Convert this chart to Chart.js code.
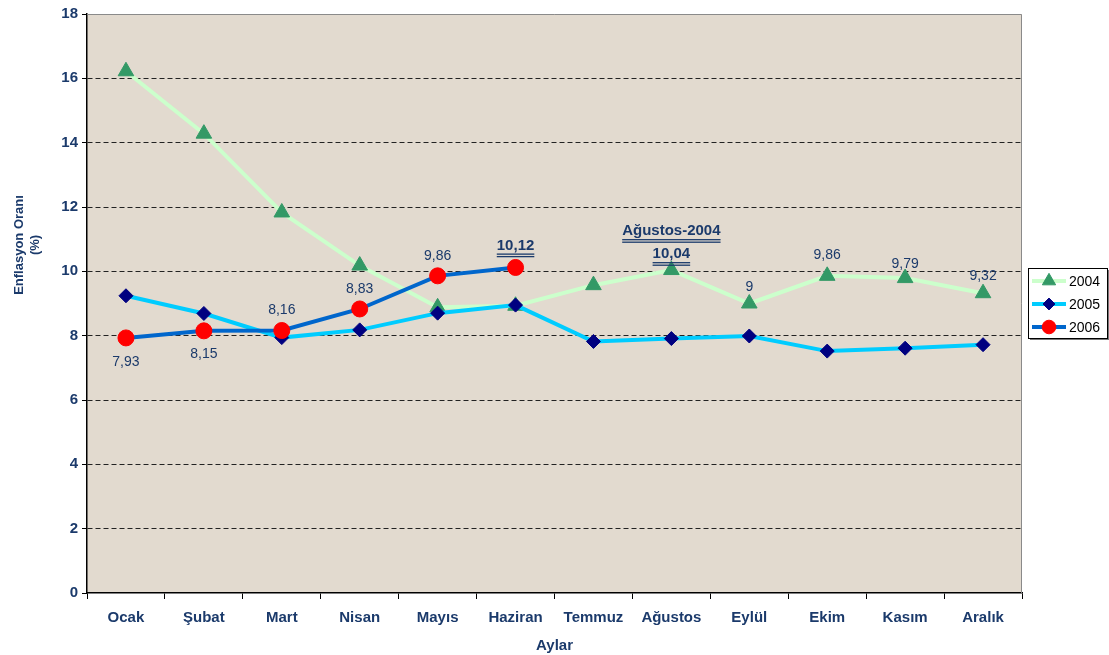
<!DOCTYPE html>
<html><head><meta charset="utf-8">
<script src="https://cdn.jsdelivr.net/npm/chart.js@4.4.0/dist/chart.umd.min.js"></script>
<style>html,body{margin:0;padding:0;background:#fff}#wrap{width:1109px;height:655px}</style>
</head><body>
<div id="wrap"><canvas id="c" width="1109" height="655"></canvas></div>
<script>
// ---------- Data
const months = ['Ocak','Şubat','Mart','Nisan','Mayıs','Haziran','Temmuz','Ağustos','Eylül','Ekim','Kasım','Aralık'];
const infl2004 = [16.22,14.28,11.83,10.18,8.88,8.93,9.57,10.04,9.00,9.86,9.79,9.32];
const infl2005 = [9.24,8.69,7.94,8.18,8.70,8.95,7.82,7.91,7.99,7.52,7.61,7.72];
const infl2006 = [7.93,8.15,8.16,8.83,9.86,10.12];
const labels2004 = [null,null,null,null,null,null,null,'10,04','9','9,86','9,79','9,32'];
const labels2006 = ['7,93','8,15','8,16','8,83','9,86','10,12'];
const yMin = 0, yMax = 18, yStep = 2;

const navy = '#1B3A6B';
const font = '"Liberation Sans", Arial, sans-serif';

// ---------- Helpers / plugins
function underline2(ctx, x, y, w){
  ctx.fillRect(x - w/2, y + 2, w, 1.3);
  ctx.fillRect(x - w/2, y + 4.5, w, 1.3);
}

const bgPlugin = {
  id:'bg',
  beforeDraw(chart){
    const {ctx, chartArea:a} = chart;
    ctx.save();
    ctx.fillStyle = '#E2DACF';
    ctx.fillRect(a.left, a.top, a.right - a.left, a.bottom - a.top);
    ctx.restore();
  },
  afterDraw(chart){
    const {ctx, chartArea:a} = chart;
    ctx.save();
    ctx.strokeStyle = '#8a8a8a'; ctx.lineWidth = 1;
    ctx.beginPath();
    ctx.moveTo(a.left, a.top + 0.5); ctx.lineTo(a.right - 0.5, a.top + 0.5); ctx.lineTo(a.right - 0.5, a.bottom);
    ctx.stroke();
    // y axis title (two lines, rotated)
    ctx.fillStyle = navy; ctx.font = 'bold 13px ' + font;
    ctx.textAlign = 'center'; ctx.textBaseline = 'middle';
    ctx.translate(0, 245); ctx.rotate(-Math.PI/2);
    ctx.fillText('Enflasyon Oranı', 0, 19);
    ctx.fillText('(%)', 0, 35);
    ctx.restore();
  }
};

// value labels (offset = distance of label centre from the point)
const labelCfg = [
  { ds:'2006', texts:labels2006, offsets:[24,23,-20,-20,-20,-22], bold:[5] },
  { ds:'2004', texts:labels2004, offsets:[0,0,0,0,0,0,0,-16,-16,-21,-14,-17], bold:[7] }
];
const labelPlugin = {
  id:'vlabels',
  afterDatasetsDraw(chart){
    const ctx = chart.ctx;
    ctx.save();
    ctx.fillStyle = navy; ctx.textAlign = 'center'; ctx.textBaseline = 'middle';
    labelCfg.forEach(cfg => {
      const di = chart.data.datasets.findIndex(d => d.label === cfg.ds);
      const meta = chart.getDatasetMeta(di);
      cfg.texts.forEach((t, i) => {
        if(!t) return;
        const p = meta.data[i];
        const isBold = cfg.bold.includes(i);
        ctx.font = (isBold ? 'bold 15px ' : '14px ') + font;
        const y = p.y + cfg.offsets[i];
        ctx.fillText(t, p.x, y);
        if(isBold){
          const w = ctx.measureText(t).width;
          underline2(ctx, p.x, y + 6, w);
          if(cfg.ds === '2004'){
            const head = months[i] + '-2004';
            ctx.fillText(head, p.x, y - 23);
            underline2(ctx, p.x, y - 17, ctx.measureText(head).width);
          }
        }
      });
    });
    ctx.restore();
  }
};

// legend box
const legendPlugin = {
  id:'legendBox',
  afterDraw(chart){
    const ctx = chart.ctx;
    const x = 1028, y = 268, w = 79, h = 70;
    ctx.save();
    ctx.fillStyle = '#777'; ctx.fillRect(x + 2, y + 2, w, h);
    ctx.fillStyle = '#fff'; ctx.fillRect(x, y, w, h);
    ctx.strokeStyle = '#000'; ctx.lineWidth = 1; ctx.strokeRect(x + 0.5, y + 0.5, w, h);
    ['2004','2005','2006'].forEach((lab, k) => {
      const ds = chart.data.datasets.find(d => d.label === lab);
      const cy = y + 13 + k * 23;
      ctx.strokeStyle = ds.borderColor; ctx.lineWidth = 4;
      ctx.beginPath(); ctx.moveTo(x + 4, cy); ctx.lineTo(x + 38, cy); ctx.stroke();
      ctx.fillStyle = ds.pointBackgroundColor; ctx.strokeStyle = ds.pointBackgroundColor; ctx.lineWidth = 1;
      Chart.helpers.drawPoint(ctx, {pointStyle: ds.pointStyle, rotation:0, radius: ds.pointRadius * 0.85, borderWidth:1}, x + 21, cy);
      ctx.fillStyle = '#000'; ctx.font = '14px ' + font; ctx.textAlign = 'left'; ctx.textBaseline = 'middle';
      ctx.fillText(lab, x + 41, cy + 1);
    });
    ctx.restore();
  }
};

// ---------- Chart
const ctx = document.getElementById('c').getContext('2d');
new Chart(ctx, {
  type:'line',
  data:{
    labels: months,
    datasets:[
      { label:'2006', data:infl2006, borderColor:'#0066CC', borderWidth:4, pointStyle:'circle', pointRadius:8,
        pointBackgroundColor:'#FF0000', pointBorderColor:'#FF0000', pointBorderWidth:1, tension:0 },
      { label:'2005', data:infl2005, borderColor:'#00CCFF', borderWidth:4, pointStyle:'rectRot', pointRadius:7,
        pointBackgroundColor:'#000080', pointBorderColor:'#000080', pointBorderWidth:1, tension:0 },
      { label:'2004', data:infl2004, borderColor:'#CCFFCC', borderWidth:4, pointStyle:'triangle', pointRadius:9,
        pointBackgroundColor:'#339966', pointBorderColor:'#339966', pointBorderWidth:1, tension:0 }
    ]
  },
  options:{
    responsive:false, animation:false, devicePixelRatio:1,
    layout:{padding:{top:14, right:87, left:0, bottom:0}},
    plugins:{legend:{display:false}, tooltip:{enabled:false}},
    scales:{
      x:{
        offset:true,
        grid:{offset:true, drawOnChartArea:false, color:'#000', tickLength:6},
        border:{color:'#000', width:1.5},
        ticks:{color:navy, font:{family:font, size:15, weight:'bold'}, padding:10, maxRotation:0, autoSkip:false},
        title:{display:true, text:'Aylar', color:navy, font:{family:font, size:15, weight:'bold'}, padding:{top:2, bottom:0}},
        afterFit: s => { s.height = 62; }
      },
      y:{
        min:yMin, max:yMax,
        ticks:{stepSize:yStep, color:navy, font:{family:font, size:15, weight:'bold'}, padding:4},
        grid:{
          color: c => (c.tick && (c.tick.value === yMax || c.tick.value === yMin)) ? 'rgba(0,0,0,0)' : '#222',
          lineWidth:1, tickLength:5, tickColor:'#000', tickBorderDash:[]
        },
        border:{color:'#000', width:1.5, dash:[5,3]},
        afterFit: s => { s.width = 87; }
      }
    }
  },
  plugins:[bgPlugin, labelPlugin, legendPlugin]
});
</script>
</body></html>
